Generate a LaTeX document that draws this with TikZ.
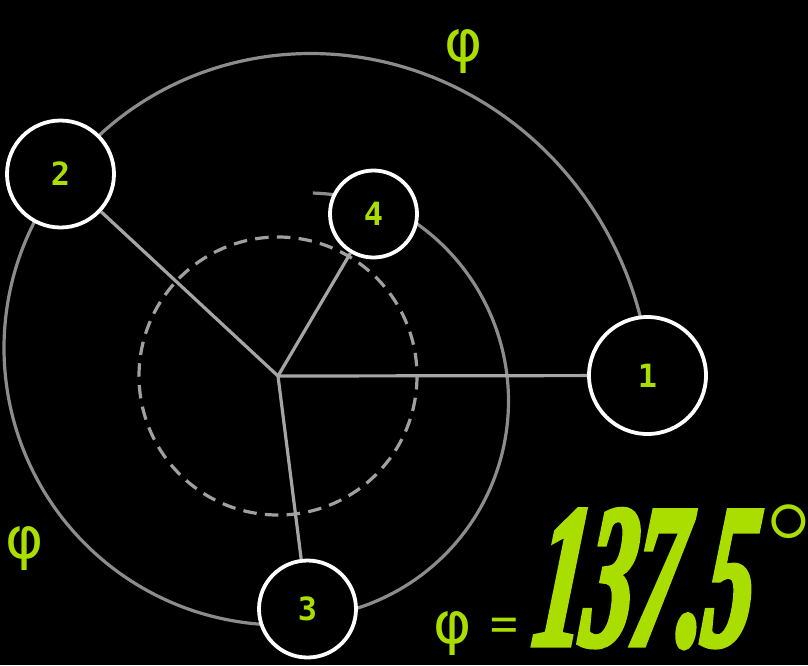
\documentclass[tikz,border=0pt]{standalone}
\usepackage{fontspec}
\newfontfamily\numfont{DejaVu Sans Mono}
\newfontfamily\phifont{DejaVu Sans}
\newfontfamily\eqfont{Noto Sans}
\newfontfamily\bignum[FakeStretch=0.47,FakeSlant=0.12,FakeBold=2.5]{Liberation Serif}
\definecolor{lime}{RGB}{170,222,0}
\definecolor{arcgray}{RGB}{140,140,140}
\definecolor{spokegray}{RGB}{165,165,165}
\definecolor{dashgray}{RGB}{160,160,160}
\begin{document}
\begin{tikzpicture}[x=1pt,y=-1pt,
  seed/.style={circle, draw=white, line width=3.8pt, fill=black, inner sep=0pt,
    minimum size=#1, text=lime, font=\numfont\bfseries\fontsize{32}{32}\selectfont},
  arcline/.style={draw=arcgray, line width=3.2pt},
  spoke/.style={draw=spokegray, line width=3.2pt},
  dashline/.style={draw=dashgray, line width=3.2pt, dash pattern=on 13.5pt off 8.3pt},
  philabel/.style={text=lime, inner sep=0pt, font=\phifont\fontsize{58}{58}\selectfont}]
\fill[black] (0,0) rectangle (808,665);
\useasboundingbox (0,0) rectangle (808,665);
\coordinate (c) at (278,376);
% spiral arcs
\draw[arcline] plot[domain=0:137, samples=120, smooth]
  ({278+(372.5-0.574*\x)*cos(\x)}, {376-(372.5-0.574*\x)*sin(\x)});
\draw[arcline] plot[domain=141.8:268, samples=120, smooth]
  ({281+277*cos(\x)}, {348-277*sin(\x)});
\draw[arcline] plot[domain=-76:84, samples=140, smooth]
  ({291+(217.5-0.28*max(0,\x-54))*cos(\x)}, {401-(217.5-0.28*max(0,\x-54))*sin(\x)});
% dashed circle
\draw[dashline] (c) circle[radius=139];
% seeds
\node[seed=117pt] (n1) at (647.5,375.5) {1};
\node[seed=107pt] (n2) at (60.5,174) {2};
\node[seed=97pt]  (n3) at (307.5,609) {3};
\node[seed=87pt]  (n4) at (373.5,214) {4};
% spokes
\draw[spoke] (c) -- (n1);
\draw[spoke] (c) -- (n2);
\draw[spoke] (c) -- (n3);
\draw[spoke] (c) -- (n4);
% labels
\node[philabel] (phitop) at (463.5,52) {φ};
\node[philabel] (phileft) at (25,549) {φ};
\node[philabel, anchor=base west] (phieq) at (433,643)
  {φ\hspace{18pt}{\eqfont\fontsize{52}{52}\selectfont =}};
\node[text=lime, inner sep=0pt, anchor=base west,
  font=\bignum\bfseries\itshape\fontsize{205}{205}\selectfont] (angle) at (531,645) {137.5};
\node[text=lime, inner sep=0pt, anchor=north, font=\fontsize{130}{130}\selectfont] (deg) at (789,504) {°};
\end{tikzpicture}
\end{document}
